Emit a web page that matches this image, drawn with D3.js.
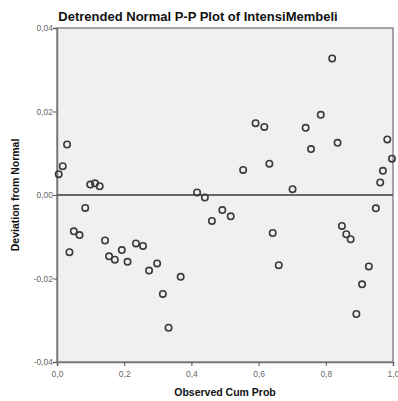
<!DOCTYPE html>
<html>
<head>
<meta charset="utf-8">
<script src="https://cdn.jsdelivr.net/npm/d3@7"></script>
<style>
  body { margin: 0; background: #fff; }
  svg { display: block; font-family: Arial, "Liberation Sans", sans-serif; }
</style>
</head>
<body>
<svg id="chart" width="398" height="401"></svg>
<script>
// observed cumulative probability and deviation from normal
const obsCumProb = [
  0.005, 0.017, 0.030, 0.037, 0.050, 0.067, 0.084, 0.099, 0.113, 0.127,
  0.143, 0.155, 0.172, 0.193, 0.210, 0.235, 0.256, 0.274, 0.298, 0.315,
  0.332, 0.368, 0.417, 0.440, 0.461, 0.492, 0.517, 0.554, 0.591, 0.617,
  0.632, 0.642, 0.660, 0.701, 0.740, 0.756, 0.785, 0.819, 0.835, 0.848,
  0.861, 0.874, 0.891, 0.908, 0.928, 0.949, 0.962, 0.970, 0.983, 0.997
];
const deviation = [
  0.0050, 0.0069, 0.0121, -0.0137, -0.0087, -0.0096, -0.0031, 0.0025, 0.0028, 0.0021,
  -0.0109, -0.0147, -0.0155, -0.0132, -0.0160, -0.0116, -0.0122, -0.0181, -0.0164, -0.0237,
  -0.0318, -0.0196, 0.0006, -0.0006, -0.0062, -0.0036, -0.0051, 0.0060, 0.0172, 0.0163,
  0.0075, -0.0091, -0.0168, 0.0014, 0.0161, 0.0110, 0.0192, 0.0327, 0.0125, -0.0074,
  -0.0094, -0.0106, -0.0285, -0.0214, -0.0171, -0.0032, 0.0030, 0.0058, 0.0133, 0.0087
];
const xTicks = [0, 0.2, 0.4, 0.6, 0.8, 1.0];
const yTicks = [-0.04, -0.02, 0, 0.02, 0.04];

const title = 'Detrended Normal P-P Plot of IntensiMembeli';
const xTitle = 'Observed Cum Prob';
const yTitle = 'Deviation from Normal';

const margin = {top: 28, right: 5, bottom: 39, left: 57};
const width = 398 - margin.left - margin.right;
const height = 401 - margin.top - margin.bottom;

const svg = d3.select('#chart');
const g = svg.append('g')
  .attr('transform', `translate(${margin.left},${margin.top})`);

const x = d3.scaleLinear().domain([0, 1]).range([0, width]);
const y = d3.scaleLinear().domain([-0.04, 0.04]).range([height, 0]);

// plot background
g.append('rect')
  .attr('width', width)
  .attr('height', height)
  .attr('fill', '#f0f0f0')
  .attr('stroke', '#888')
  .attr('stroke-width', 1.5);

const xAxis = d3.axisBottom(x)
  .tickValues(xTicks)
  .tickSize(4)
  .tickFormat(d => d3.format('.1f')(d).replace('.', ','));
const yAxis = d3.axisLeft(y)
  .tickValues(yTicks)
  .tickSize(4)
  .tickFormat(d => d3.format('.2f')(d).replace('.', ',').replace('−', '-'));

g.append('g')
  .attr('transform', `translate(0,${height})`)
  .call(xAxis)
  .call(s => s.select('.domain').attr('stroke', '#777').attr('stroke-width', 1.5))
  .call(s => s.selectAll('.tick line').attr('stroke', '#555'))
  .call(s => s.selectAll('.tick text').attr('fill', '#666').attr('font-size', 8.5).attr('dy', '0.9em'));

g.append('g')
  .call(yAxis)
  .call(s => s.select('.domain').attr('stroke', '#777').attr('stroke-width', 1.5))
  .call(s => s.selectAll('.tick line').attr('stroke', '#555'))
  .call(s => s.selectAll('.tick text').attr('fill', '#666').attr('font-size', 8.5).attr('x', -4));

// zero reference line
g.append('line')
  .attr('x1', 0)
  .attr('x2', width)
  .attr('y1', y(0))
  .attr('y2', y(0))
  .attr('stroke', '#666')
  .attr('stroke-width', 2);

// points
const pts = obsCumProb.map((p, i) => ({p: p, d: deviation[i]}));
g.selectAll('circle.pt')
  .data(pts)
  .enter().append('circle')
  .attr('class', 'pt')
  .attr('cx', d => x(d.p))
  .attr('cy', d => y(d.d))
  .attr('r', 3.2)
  .attr('fill', 'none')
  .attr('stroke', '#3a3a3a')
  .attr('stroke-width', 1.6);

svg.append('text')
  .attr('x', 198)
  .attr('y', 21)
  .attr('text-anchor', 'middle')
  .attr('font-size', 13)
  .attr('font-weight', 'bold')
  .attr('fill', '#111')
  .text(title);

svg.append('text')
  .attr('x', margin.left + width / 2)
  .attr('y', 396)
  .attr('text-anchor', 'middle')
  .attr('font-size', 10.5)
  .attr('font-weight', 'bold')
  .attr('fill', '#111')
  .text(xTitle);

svg.append('text')
  .attr('transform', `translate(19,${margin.top + height / 2}) rotate(-90)`)
  .attr('text-anchor', 'middle')
  .attr('font-size', 10.5)
  .attr('font-weight', 'bold')
  .attr('fill', '#111')
  .text(yTitle);
</script>
</body>
</html>
